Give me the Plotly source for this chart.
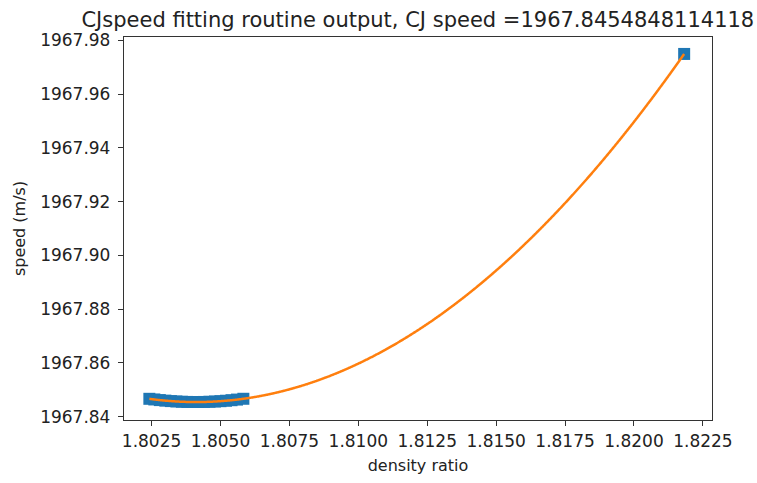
import numpy as np
import plotly.graph_objects as go

# measured points (density ratio, speed)
density_ratio = [1.80242, 1.80260, 1.80280, 1.80300, 1.80320, 1.80340, 1.80360, 1.80380,
                 1.80400, 1.80420, 1.80440, 1.80460, 1.80480, 1.80500, 1.80520, 1.80540,
                 1.80560, 1.80583, 1.82182]
speed = [1967.84668, 1967.84644, 1967.84620, 1967.84600, 1967.84583, 1967.84569, 1967.84559,
         1967.84552, 1967.84549, 1967.84548, 1967.84551, 1967.84558, 1967.84567, 1967.84580,
         1967.84596, 1967.84616, 1967.84639, 1967.84669, 1967.97490]

x_ticks = [1.8025, 1.8050, 1.8075, 1.8100, 1.8125, 1.8150, 1.8175, 1.8200, 1.8225]
y_ticks = [1967.84, 1967.86, 1967.88, 1967.90, 1967.92, 1967.94, 1967.96, 1967.98]
title_text = "CJspeed fitting routine output, CJ speed =1967.8454848114118"

# quadratic fit (as the original fitting routine)
coef = np.polyfit(np.array(density_ratio) - 1.81, np.array(speed), 2)
xf = np.linspace(min(density_ratio), max(density_ratio), 600)
yf = np.polyval(coef, xf - 1.81)

FONT = "DejaVu Sans"
TXT = "#222222"
fig = go.Figure()
fig.add_trace(go.Scatter(x=density_ratio, y=speed, mode="markers",
                         marker=dict(symbol="square", size=12, color="#1f77b4",
                                     line=dict(width=0)),
                         showlegend=False))
fig.add_trace(go.Scatter(x=xf, y=yf, mode="lines",
                         line=dict(color="#ff7f0e", width=2.5, shape="spline"),
                         showlegend=False))

axis_common = dict(showgrid=False, zeroline=False, showline=True, mirror=True,
                   linecolor="#333333", linewidth=1.3, ticks="outside", ticklen=5,
                   tickwidth=1.3, tickcolor="#333333",
                   tickfont=dict(family=FONT, size=17, color=TXT))

fig.update_layout(
    width=757, height=483,
    margin=dict(l=124, r=45, t=37, b=63),
    paper_bgcolor="white", plot_bgcolor="white",
    title=dict(text=title_text, x=(124 + 711.7) / 2 / 757, xanchor="center",
               yref="container", y=0.975, yanchor="top",
               font=dict(family=FONT, size=21, color=TXT)),
    xaxis=dict(range=[1.8015, 1.82283], tickvals=x_ticks, tickformat=".4f",
               title=dict(text="density ratio", standoff=10,
                          font=dict(family=FONT, size=16, color=TXT)),
               **axis_common),
    yaxis=dict(range=[1967.8388, 1967.9812], tickvals=y_ticks, tickformat=".2f",
               ticklabelstandoff=4,
               title=dict(text="speed (m/s)", standoff=10,
                          font=dict(family=FONT, size=16, color=TXT)),
               **axis_common),
)
fig.write_html("out.html")
